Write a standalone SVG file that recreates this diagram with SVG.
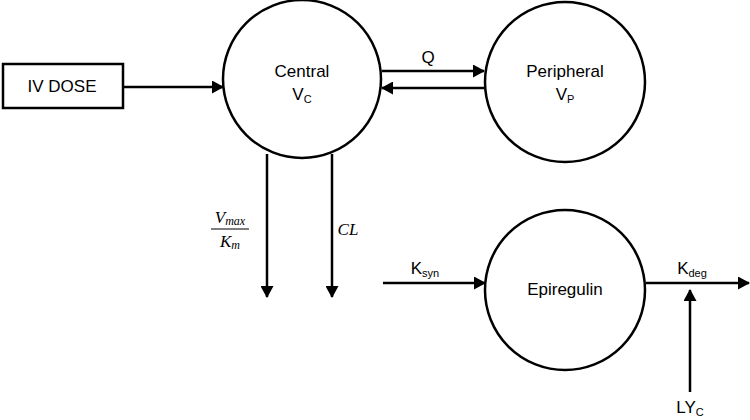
<svg xmlns="http://www.w3.org/2000/svg" width="750" height="420" viewBox="0 0 750 420">
<defs>
<marker id="ah" viewBox="0 0 12 13" refX="11" refY="6.5" markerWidth="12" markerHeight="13" orient="auto" markerUnits="userSpaceOnUse">
<path d="M0,0 L12,6.5 L0,13 Z" fill="#000"/>
</marker>
<style>
.n{fill:#fff;stroke:#000;stroke-width:2.5}
.t{font-family:"Liberation Sans",Arial,sans-serif;font-size:17px;fill:#000;text-anchor:middle}
.s{font-size:11px}
.m{font-family:"Liberation Serif",serif;font-style:italic;font-size:17px;fill:#000;text-anchor:middle}
.c{stroke:#000;stroke-width:2.5;fill:none;marker-end:url(#ah)}
</style>
</defs>
<rect width="750" height="420" fill="#fff"/>
<g id="iv-dose">
<rect class="n" x="3" y="64" width="120" height="44"/>
<text class="t" x="62" y="92">IV DOSE</text>
</g>
<g id="central">
<circle class="n" cx="302" cy="79" r="79"/>
<text class="t" x="302" y="77">Central</text>
<text class="t" x="302" y="100">V<tspan class="s" dy="3">C</tspan></text>
</g>
<g id="peripheral">
<circle class="n" cx="565" cy="82" r="80"/>
<text class="t" x="565" y="77">Peripheral</text>
<text class="t" x="565" y="100">V<tspan class="s" dy="3">P</tspan></text>
</g>
<g id="epiregulin">
<circle class="n" cx="565" cy="290" r="80"/>
<text class="t" x="565" y="295">Epiregulin</text>
</g>
<g id="connectors">
<line class="c" x1="123" y1="87" x2="223" y2="87"/>
<line class="c" x1="382" y1="71" x2="484" y2="71"/>
<line class="c" x1="484" y1="88" x2="382" y2="88"/>
<line class="c" x1="267" y1="154" x2="267" y2="297"/>
<line class="c" x1="332" y1="154" x2="332" y2="297"/>
<line class="c" x1="383" y1="283" x2="485" y2="283"/>
<line class="c" x1="646" y1="283" x2="749" y2="283"/>
<line class="c" x1="690" y1="392" x2="690" y2="290"/>
</g>
<g id="labels">
<text class="t" x="428" y="63">Q</text>
<text class="m" x="230" y="223">V<tspan font-size="12" dy="2">max</tspan></text>
<line x1="211" y1="229" x2="249" y2="229" stroke="#000" stroke-width="1.2"/>
<text class="m" x="230" y="247">K<tspan font-size="12" dy="2">m</tspan></text>
<text class="m" x="348" y="235">CL</text>
<text class="t" x="425" y="274">K<tspan class="s" dy="3">syn</tspan></text>
<text class="t" x="692" y="274">K<tspan class="s" dy="3">deg</tspan></text>
<text class="t" x="690" y="413">LY<tspan class="s" dy="3">C</tspan></text>
</g>
</svg>
